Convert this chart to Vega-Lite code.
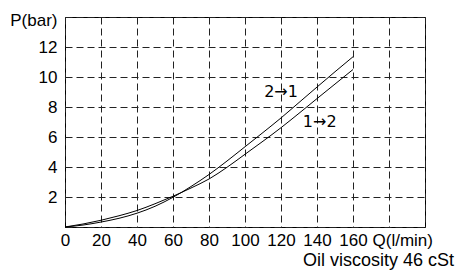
{
  "$schema": "https://vega.github.io/schema/vega-lite/v6.json",
  "autosize": {"type": "none"},
  "padding": {"left": 65, "top": 17, "right": 33, "bottom": 48},
  "width": 360,
  "height": 210,
  "background": "white",
  "config": {
    "view": {"stroke": "black", "strokeWidth": 1},
    "font": "Liberation Sans",
    "axis": {
      "labelFont": "Liberation Sans",
      "titleFont": "Liberation Sans",
      "labelColor": "black",
      "titleColor": "black",
      "labelFontSize": 17,
      "titleFontSize": 17,
      "titleFontWeight": "normal",
      "labelOverlap": false,
      "ticks": false,
      "domain": false,
      "grid": true,
      "gridColor": "#222",
      "gridDash": [7, 4],
      "gridWidth": 1,
      "gridOpacity": 1
    }
  },
  "title": {
    "text": "Oil viscosity 46 cSt",
    "orient": "bottom",
    "anchor": "end",
    "frame": "group",
    "dx": 29,
    "font": "Liberation Sans",
    "fontSize": 18,
    "fontWeight": "normal",
    "color": "black",
    "offset": 4
  },
  "datasets": {
    "curves": [
      {"Q": 0, "P": 0, "dir": "2→1"},
      {"Q": 10, "P": 0.13, "dir": "2→1"},
      {"Q": 20, "P": 0.33, "dir": "2→1"},
      {"Q": 30, "P": 0.58, "dir": "2→1"},
      {"Q": 40, "P": 0.92, "dir": "2→1"},
      {"Q": 50, "P": 1.38, "dir": "2→1"},
      {"Q": 60, "P": 1.98, "dir": "2→1"},
      {"Q": 70, "P": 2.7, "dir": "2→1"},
      {"Q": 80, "P": 3.5, "dir": "2→1"},
      {"Q": 90, "P": 4.4, "dir": "2→1"},
      {"Q": 100, "P": 5.35, "dir": "2→1"},
      {"Q": 110, "P": 6.3, "dir": "2→1"},
      {"Q": 120, "P": 7.27, "dir": "2→1"},
      {"Q": 130, "P": 8.3, "dir": "2→1"},
      {"Q": 140, "P": 9.33, "dir": "2→1"},
      {"Q": 150, "P": 10.35, "dir": "2→1"},
      {"Q": 160, "P": 11.35, "dir": "2→1"},
      {"Q": 0, "P": 0, "dir": "1→2"},
      {"Q": 10, "P": 0.2, "dir": "1→2"},
      {"Q": 20, "P": 0.45, "dir": "1→2"},
      {"Q": 30, "P": 0.75, "dir": "1→2"},
      {"Q": 40, "P": 1.1, "dir": "1→2"},
      {"Q": 50, "P": 1.55, "dir": "1→2"},
      {"Q": 60, "P": 2.05, "dir": "1→2"},
      {"Q": 70, "P": 2.6, "dir": "1→2"},
      {"Q": 80, "P": 3.2, "dir": "1→2"},
      {"Q": 90, "P": 3.98, "dir": "1→2"},
      {"Q": 100, "P": 4.85, "dir": "1→2"},
      {"Q": 110, "P": 5.72, "dir": "1→2"},
      {"Q": 120, "P": 6.62, "dir": "1→2"},
      {"Q": 130, "P": 7.58, "dir": "1→2"},
      {"Q": 140, "P": 8.56, "dir": "1→2"},
      {"Q": 150, "P": 9.53, "dir": "1→2"},
      {"Q": 160, "P": 10.5, "dir": "1→2"}
    ],
    "labels": [
      {"Q": 120, "P": 9, "text": "2→1"},
      {"Q": 141.5, "P": 7, "text": "1→2"}
    ]
  },
  "encoding": {
    "x": {
      "field": "Q",
      "type": "quantitative",
      "scale": {"domain": [0, 200], "nice": false, "zero": true},
      "axis": {
        "values": [0, 20, 40, 60, 80, 100, 120, 140, 160, 180, 200],
        "tickCount": 30,
        "format": "d",
        "labelExpr": "datum.value > 160 ? '' : datum.label",
        "labelPadding": 5,
        "labelFlush": false,
        "title": "Q(l/min)",
        "titleAngle": 0,
        "titleAlign": "left",
        "titleBaseline": "alphabetic",
        "titleX": 307,
        "titleY": 18
      }
    },
    "y": {
      "field": "P",
      "type": "quantitative",
      "scale": {"domain": [0, 14], "nice": false},
      "axis": {
        "values": [0, 2, 4, 6, 8, 10, 12, 14],
        "tickCount": 30,
        "format": "d",
        "labelExpr": "datum.value == 0 || datum.value == 14 ? '' : datum.label",
        "labelPadding": 8,
        "title": "P(bar)",
        "titleAngle": 0,
        "titleAlign": "right",
        "titleBaseline": "alphabetic",
        "titleX": -8,
        "titleY": 8
      }
    }
  },
  "layer": [
    {
      "data": {"name": "curves"},
      "mark": {"type": "line", "color": "black", "strokeWidth": 1, "interpolate": "monotone"},
      "encoding": {
        "detail": {"field": "dir", "type": "nominal"}
      }
    },
    {
      "data": {"name": "labels"},
      "mark": {"type": "text", "font": "DejaVu Sans", "fontSize": 16, "color": "black", "align": "center", "baseline": "middle"},
      "encoding": {
        "text": {"field": "text", "type": "nominal"}
      }
    }
  ]
}
